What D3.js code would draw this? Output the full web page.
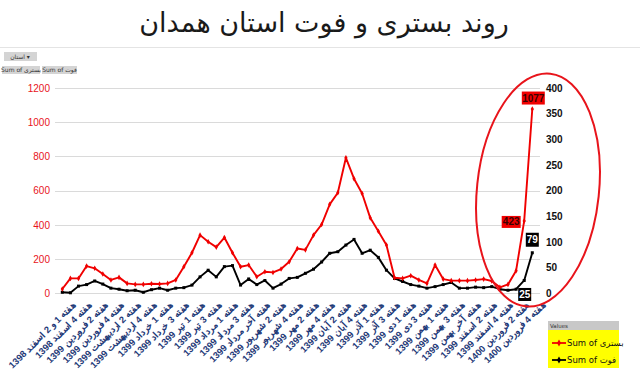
<!DOCTYPE html>
<html>
<head>
<meta charset="utf-8">
<script src="https://cdn.jsdelivr.net/npm/d3@7"></script>
<style>
	body { margin: 0; background: #fff; }
	svg { display: block; font-family: "DejaVu Sans", sans-serif; }
</style>
</head>
<body>
<svg id="chart" width="640" height="375"></svg>
<script>
var categories = [
	"هفته 1 و 2 اسفند 1398", "هفته 3 اسفند 1398", "هفته 4 اسفند 1398",
	"هفته 1 فروردین 1399", "هفته 2 فروردین 1399", "هفته 3 فروردین 1399", "هفته 4 فروردین 1399",
	"هفته 1 اردیبهشت 1399", "هفته 2 اردیبهشت 1399", "هفته 3 اردیبهشت 1399", "هفته 4 اردیبهشت 1399", "هفته آخر اردیبهشت 1399",
	"هفته 1 خرداد 1399", "هفته 2 خرداد 1399", "هفته 3 خرداد 1399", "هفته 4 خرداد 1399",
	"هفته 1 تیر 1399", "هفته 2 تیر 1399", "هفته 3 تیر 1399", "هفته 4 تیر 1399",
	"هفته 1 مرداد 1399", "هفته 2 مرداد 1399", "هفته 3 مرداد 1399", "هفته 4 مرداد 1399", "هفته آخر مرداد 1399",
	"هفته 1 شهریور 1399", "هفته 2 شهریور 1399", "هفته 3 شهریور 1399", "هفته 4 شهریور 1399",
	"هفته 1 مهر 1399", "هفته 2 مهر 1399", "هفته 3 مهر 1399", "هفته 4 مهر 1399",
	"هفته 1 آبان 1399", "هفته 2 آبان 1399", "هفته 3 آبان 1399", "هفته 4 آبان 1399", "هفته آخر آبان 1399",
	"هفته 1 آذر 1399", "هفته 2 آذر 1399", "هفته 3 آذر 1399", "هفته 4 آذر 1399",
	"هفته 1 دی 1399", "هفته 2 دی 1399", "هفته 3 دی 1399", "هفته 4 دی 1399",
	"هفته 1 بهمن 1399", "هفته 2 بهمن 1399", "هفته 3 بهمن 1399", "هفته 4 بهمن 1399", "هفته آخر بهمن 1399",
	"هفته 1 اسفند 1399", "هفته 2 اسفند 1399", "هفته 3 اسفند 1399", "هفته 4 اسفند 1399",
	"هفته 1 فروردین 1400", "هفته 2 فروردین 1400", "هفته 3 فروردین 1400", "هفته 4 فروردین 1400"
];

// بستری (left axis)
var bastari = [25, 87, 87, 159, 146, 113, 78, 93, 58, 52, 52, 56, 54, 58, 78, 155, 237, 340, 301, 270,
	326, 237, 155, 165, 97, 126, 122, 142, 184, 262, 254, 340, 402, 520, 588, 792, 670, 583, 441, 363,
	282, 91, 87, 103, 78, 58, 165, 83, 74, 74, 74, 78, 83, 72, 35, 52, 132, 423, 1077];

// فوت (right axis)
var fowt = [2, 1, 14, 17, 24, 18, 10, 8, 5, 6, 2, 7, 10, 6, 10, 11, 16, 32, 45, 32,
	52, 54, 16, 28, 17, 25, 10, 18, 29, 31, 39, 47, 61, 78, 81, 94, 105, 78, 84, 70,
	45, 29, 23, 17, 14, 10, 13, 17, 21, 10, 10, 12, 11, 13, 8, 6, 8, 25, 79];

var leftTicks = [0, 200, 400, 600, 800, 1000, 1200];
var rightTicks = [0, 50, 100, 150, 200, 250, 300, 350, 400];
var labelled = [57, 58]; // points with data labels

var svg = d3.select("#chart"),
	width = +svg.attr("width"),
	height = +svg.attr("height");

var x = d3.scalePoint()
	.domain(categories)
	.range([62.3, 532.3]);

var yL = d3.scaleLinear().domain([0, 1200]).range([293.3, 88]);
var yR = d3.scaleLinear().domain([0, 400]).range([293.3, 88]);

// title
svg.append("text")
	.attr("x", 324).attr("y", 32)
	.attr("text-anchor", "middle")
	.style("font-size", "27px")
	.attr("fill", "#1a1a1a")
	.text("روند بستری و فوت استان همدان");

svg.append("line")
	.attr("x1", 0).attr("x2", width)
	.attr("y1", 47.5).attr("y2", 47.5)
	.attr("stroke", "#e4e4e4");

// pivot buttons
var btn = svg.append("g").style("font-size", "6px");
btn.append("rect").attr("x", 4).attr("y", 52).attr("width", 33).attr("height", 9).attr("fill", "#d4d4d4");
btn.append("text").attr("x", 20).attr("y", 59).attr("text-anchor", "middle").attr("fill", "#333").text("استان ▾");
btn.append("rect").attr("x", 2).attr("y", 66).attr("width", 38).attr("height", 8).attr("fill", "#d4d4d4");
btn.append("text").attr("x", 21).attr("y", 72).attr("text-anchor", "middle").attr("fill", "#333").text("Sum of بستری");
btn.append("rect").attr("x", 42).attr("y", 66).attr("width", 35).attr("height", 8).attr("fill", "#d4d4d4");
btn.append("text").attr("x", 59.5).attr("y", 72).attr("text-anchor", "middle").attr("fill", "#333").text("Sum of فوت");

// grid
svg.append("g")
	.selectAll("line")
	.data(leftTicks)
	.enter().append("line")
		.attr("x1", 55).attr("x2", 540)
		.attr("y1", function(d) { return Math.round(yL(d)) + 0.5; })
		.attr("y2", function(d) { return Math.round(yL(d)) + 0.5; })
		.attr("stroke", "#dadada");

// axes
var left = svg.append("g")
	.attr("transform", "translate(55,0)")
	.call(d3.axisLeft(yL).tickValues(leftTicks).tickFormat(d3.format("d")).tickSize(0).tickPadding(5));
left.select(".domain").remove();
left.selectAll("text")
	.attr("fill", "#e8141b")
	.style("font-family", "Liberation Sans, sans-serif")
	.style("font-size", "10px");

var right = svg.append("g")
	.attr("transform", "translate(542,0)")
	.call(d3.axisRight(yR).tickValues(rightTicks).tickSize(0).tickPadding(4));
right.select(".domain").remove();
right.selectAll("text")
	.attr("fill", "#111")
	.style("font-family", "Liberation Sans, sans-serif")
	.style("font-weight", "bold")
	.style("font-size", "10px");

// category labels, every other week
var bottom = svg.append("g")
	.attr("transform", "translate(0,296)")
	.call(d3.axisBottom(x)
		.tickValues(categories.filter(function(d, i) { return i % 2 == 0; }))
		.tickSize(0));
bottom.select(".domain").remove();
bottom.selectAll("text")
	.attr("fill", "#1f3a78")
	.style("font-size", "9.3px")
	.style("font-weight", "bold")
	.attr("text-anchor", "end")
	.attr("dy", "0.35em")
	.attr("transform", "translate(9,5) rotate(-45)");

// series
function series(values, y, color, sym) {
	var g = svg.append("g");
	g.append("path")
		.datum(values)
		.attr("fill", "none")
		.attr("stroke", color)
		.attr("stroke-width", 1.9)
		.attr("stroke-linejoin", "round")
		.attr("d", d3.line()
			.x(function(d, i) { return x(categories[i]); })
			.y(function(d) { return y(d); }));
	g.selectAll("path.m")
		.data(values)
		.enter().append("path")
			.attr("class", "m")
			.attr("fill", color)
			.attr("transform", function(d, i) { return "translate(" + x(categories[i]) + "," + y(d) + ")"; })
			.attr("d", d3.symbol().type(sym).size(9));
}
series(fowt, yR, "#000", d3.symbolSquare);
series(bastari, yL, "#f00000", d3.symbolDiamond);

// data labels
function tag(cx, cy, w, h, bg, fg, txt) {
	svg.append("rect")
		.attr("x", cx - w / 2).attr("y", cy - h / 2)
		.attr("width", w).attr("height", h)
		.attr("fill", bg);
	svg.append("text")
		.attr("x", cx).attr("y", cy + 3.5)
		.attr("text-anchor", "middle")
		.attr("fill", fg)
		.style("font-family", "Liberation Sans, sans-serif")
		.style("font-weight", "bold")
		.style("font-size", "10px")
		.text(txt);
}
var p0 = labelled[0], p1 = labelled[1];
tag(x(categories[p1]) + 1, yL(bastari[p1]) - 11, 23, 13, "#f00000", "#3b0000", bastari[p1]);
tag(x(categories[p0]) - 13, yL(bastari[p0]) + 1, 19, 12, "#f00000", "#3b0000", bastari[p0]);
tag(x(categories[p1]), yR(fowt[p1]) - 13, 13, 14, "#000", "#fff", fowt[p1]);
tag(x(categories[p0]) + 0.5, yR(fowt[p0]) + 14, 13, 13, "#000", "#fff", fowt[p0]);

// highlight ellipse
svg.append("ellipse")
	.attr("cx", 538).attr("cy", 190)
	.attr("rx", 61).attr("ry", 117)
	.attr("transform", "rotate(6,538,190)")
	.attr("fill", "none")
	.attr("stroke", "#e8141b")
	.attr("stroke-width", 2);

// legend
var lg = svg.append("g").attr("transform", "translate(548,321)");
lg.append("rect").attr("width", 71).attr("height", 47).attr("fill", "#ffff00");
lg.append("rect").attr("width", 71).attr("height", 9).attr("fill", "#c8c8c8");
lg.append("text").attr("x", 2).attr("y", 7).style("font-size", "5.5px").attr("fill", "#333").text("Values");
var items = [["Sum of بستری", "#f00000"], ["Sum of فوت", "#000"]];
items.forEach(function(d, i) {
	var yy = 22 + i * 17;
	lg.append("line").attr("x1", 4).attr("x2", 18).attr("y1", yy).attr("y2", yy)
		.attr("stroke", d[1]).attr("stroke-width", 1.8);
	lg.append("path").attr("transform", "translate(11," + yy + ")")
		.attr("d", d3.symbol().type(d3.symbolDiamond).size(14)).attr("fill", d[1]);
	lg.append("text").attr("x", 19).attr("y", yy + 3)
		.style("font-size", "8.5px").attr("fill", "#111").text(d[0]);
});
</script>
</body>
</html>
